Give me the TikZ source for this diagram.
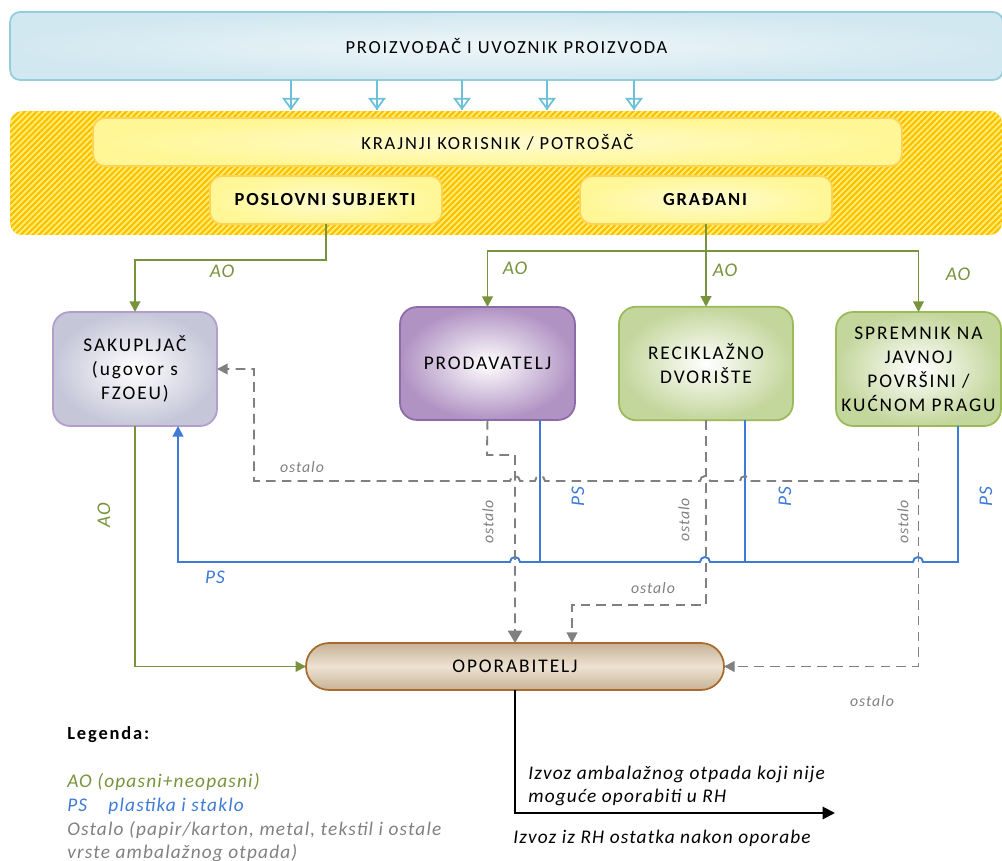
\documentclass[tikz,border=0pt]{standalone}
\usepackage{fontspec}
\setmainfont{Carlito}[UprightFeatures={LetterSpace=10},BoldFeatures={LetterSpace=10},ItalicFeatures={LetterSpace=6}]
\usepackage{tikz}
\usetikzlibrary{arrows.meta,patterns.meta}
\definecolor{plava}{HTML}{93CDDD}
\definecolor{plavaT}{HTML}{D2E8F0}
\definecolor{plavaS}{HTML}{EEF6F9}
\definecolor{plavaL}{HTML}{6CC0D8}
\definecolor{zlatna}{HTML}{FFC000}
\definecolor{zutaP}{HTML}{FFF176}
\definecolor{zuta}{HTML}{FFF795}
\definecolor{zutaS}{HTML}{FFFBD2}
\definecolor{narancasta}{HTML}{FFD25A}
\definecolor{zelena}{HTML}{77933C}
\definecolor{zelenaT}{HTML}{C3D69B}
\definecolor{zelenaR}{HTML}{9BBB59}
\definecolor{siva}{HTML}{808080}
\definecolor{sivaT}{HTML}{C5C6D8}
\definecolor{lila}{HTML}{B39DCB}
\definecolor{ljubicasta}{HTML}{B092C3}
\definecolor{ljubicastaR}{HTML}{8C6CA8}
\definecolor{smeda}{HTML}{C6B295}
\definecolor{smedaS}{HTML}{EEE2D2}
\definecolor{smedaR}{HTML}{A86B2E}
\definecolor{modra}{HTML}{3D7BD6}

\begin{document}
\begin{tikzpicture}[x=0.02cm,y=-0.02cm,
  box/.style={draw,line width=1pt,rounded corners=0.34cm,inner sep=2pt,outer sep=0pt,align=center,font=\fontsize{11}{13.6}\selectfont},
  topbox/.style={box,draw=plava,inner color=plavaS,outer color=plavaT,rounded corners=0.2cm,minimum width=19.86cm,minimum height=1.36cm,font=\fontsize{10.5}{12}\selectfont},
  band/.style={rounded corners=0.24cm,minimum width=19.84cm,minimum height=2.48cm,preaction={fill=zlatna},pattern={Lines[angle=45,distance=2.4pt,line width=1pt]},pattern color=zutaP},
  ybox/.style={box,draw=narancasta,inner color=zutaS,outer color=zuta,rounded corners=0.24cm,minimum height=0.96cm,font=\fontsize{10.5}{12}\selectfont},
  gbox/.style={box,draw=zelenaR,inner color=white,outer color=zelenaT,minimum height=2.27cm},
  pa/.style={draw=plavaL,line width=1pt,-{Triangle[open,length=7pt,width=10pt]},postaction={draw,-}},
  ao/.style={draw=zelena,line width=1.1pt,-{Triangle[length=6pt,width=6pt]}},
  ps/.style={draw=modra,line width=1.1pt},
  ost/.style={draw=siva,line width=1.1pt,dash pattern=on 5.5pt off 3.5pt},
  lao/.style={text=zelena,font=\fontsize{11}{13}\selectfont\itshape},
  lps/.style={text=modra,font=\fontsize{11}{13}\selectfont\itshape},
  lost/.style={text=siva,font=\fontsize{9}{11}\selectfont\itshape},
  leg/.style={anchor=west,inner sep=0pt,font=\fontsize{11}{13}\selectfont\itshape}]
\useasboundingbox(0,0)rectangle(1002,861);
% proizvodjac i korisnici
\draw(506.5,46)node[topbox](pro){PROIZVOĐAČ I UVOZNIK PROIZVODA};
\draw(506,173)node[band](pas){};
\draw(497.5,142)node[ybox,minimum width=16.18cm](kor){KRAJNJI KORISNIK / POTROŠAČ};
\draw(326,200)node[ybox,minimum width=4.64cm](pos){\textbf{POSLOVNI SUBJEKTI}};
\draw(706,200)node[ybox,minimum width=5.04cm](gra){\textbf{GRAĐANI}};
\foreach \x in {291,377,462,547,634}
  \draw[pa](pro.south -| \x,0)--(pas.north -| \x,0);
% sakupljaci
\draw(135,369)node[box,draw=lila,inner color=white,outer color=sivaT,minimum width=3.28cm,minimum height=2.28cm](sak){SAKUPLJAČ\\(ugovor s\\FZOEU)};
\draw(487.5,363.5)node[box,draw=ljubicastaR,inner color=white,outer color=ljubicasta,minimum width=3.5cm,minimum height=2.26cm](prod){PRODAVATELJ};
\draw(706,363.5)node[gbox,minimum width=3.48cm](rec){RECIKLAŽNO\\DVORIŠTE};
\draw(918.5,369)node[gbox,minimum width=3.3cm,minimum height=2.28cm](spr){SPREMNIK NA\\JAVNOJ\\POVRŠINI /\\KUĆNOM PRAGU};
\draw(515,666.5)node[box,draw=smedaR,top color=smeda,bottom color=smeda,middle color=smedaS,rounded corners=0.46cm,minimum width=8.36cm,minimum height=0.94cm](opor){OPORABITELJ};
% AO
\draw[ao](pos.south)--++(0,36)-|(sak.north);
\draw[ao](gra.south)--(rec.north);
\draw[ao](gra.south |- 0,251)-|(prod.north);
\draw[ao](gra.south |- 0,251)-|(spr.north);
\draw[ao](sak.south)|-(opor.west);
\draw(222,271)node[lao](ao1){AO};
\draw(515,268)node[lao](ao2){AO};
\draw(725,270)node[lao](ao3){AO};
\draw(958,274)node[lao](ao4){AO};
\draw(104,515)node[lao,rotate=90](ao5){AO};
% PS
\draw[ps](prod.south -| 540,0)--(540,562);
\draw[ps](rec.south -| 745,0)--(745,562);
\draw[ps,-{Triangle[length=6pt,width=6pt]}](spr.south -| 958,0)|-(923,562)arc[start angle=0,end angle=-180,radius=5]
  --(710,562)arc[start angle=0,end angle=-180,radius=5]
  --(520,562)arc[start angle=0,end angle=-180,radius=5]
  -|(sak.south -| 178,0);
\draw(215,577)node[lps](ps1){PS};
\draw(578,497)node[lps,rotate=90](ps2){PS};
\draw(785,497)node[lps,rotate=90](ps3){PS};
\draw(986,497)node[lps,rotate=90](ps4){PS};
% ostalo
\draw[ost,-{Triangle[length=7pt,width=8pt]}](prod.south)--(487,455)-|(opor.north);
\draw[ost,-{Triangle[length=6pt,width=6pt]}](rec.south)|-(572,605)--(opor.north -| 572,0);
\draw[ost,-{Triangle[length=6pt,width=6pt]}](spr.south)|-(opor.east);
\draw[ost,-{Triangle[length=6pt,width=6pt]}](spr.south |- 0,481)--(750,481)arc[start angle=0,end angle=-180,radius=5]
  --(710,481)arc[start angle=0,end angle=-180,radius=5]
  --(545,481)arc[start angle=0,end angle=-180,radius=5]
  --(520,481)arc[start angle=0,end angle=-180,radius=5]
  --(254,481)|-(sak.east);
\draw(302,467)node[lost](os1){ostalo};
\draw(653,588)node[lost](os2){ostalo};
\draw(872,701)node[lost](os3){ostalo};
\draw(488,522)node[lost,rotate=90](os4){ostalo};
\draw(684,520)node[lost,rotate=90](os5){ostalo};
\draw(903,522)node[lost,rotate=90](os6){ostalo};
% izvoz
\coordinate(izv)at(835,813);
\draw[line width=1.1pt,-{Triangle[length=7pt,width=7pt]}](opor.south)|-(izv);
\draw(528,786)node[leg,align=left,font=\fontsize{11}{13.5}\selectfont\itshape](iz1){Izvoz ambalažnog otpada koji nije\\moguće oporabiti u RH};
\draw(513,838)node[leg](iz2){Izvoz iz RH ostatka nakon oporabe};
% legenda
\draw(67,735)node[leg,font=\fontsize{10.5}{12}\selectfont\bfseries](leg){Legenda:};
\draw(67,782)node[leg,text=zelena](lg1){AO (opasni+neopasni)};
\draw(67,806)node[leg,text=modra](lg2){PS\hspace{1.1em}plastika i staklo};
\draw(67,830)node[leg,text=siva](lg3){Ostalo (papir/karton, metal, tekstil i ostale};
\draw(67,853)node[leg,text=siva](lg4){vrste ambalažnog otpada)};
\end{tikzpicture}
\end{document}
